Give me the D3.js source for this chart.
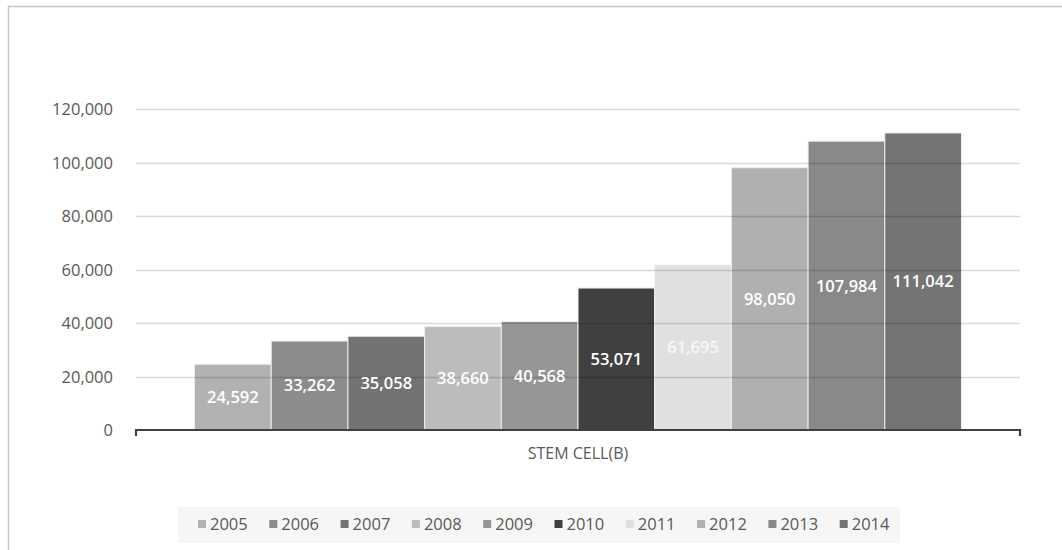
<!DOCTYPE html>
<html>
<head>
<meta charset="utf-8">
<script src="https://cdn.jsdelivr.net/npm/d3@7"></script>
<style>
  html, body { margin: 0; padding: 0; background: #fff; }
  svg { display: block; }
  text { font-family: "Open Sans", "DejaVu Sans", sans-serif; }
</style>
</head>
<body>
<svg id="chart" width="1062" height="550"></svg>
<script>
const years = ["2005","2006","2007","2008","2009","2010","2011","2012","2013","2014"];
const values = [24592, 33262, 35058, 38660, 40568, 53071, 61695, 98050, 107984, 111042];
const colors = ["#b2b2b2","#8c8c8c","#737373","#bcbcbc","#969696","#404040","#e0e0e0","#b0b0b0","#898989","#747474"];
const yTicks = [0, 20000, 40000, 60000, 80000, 100000, 120000];
const category = "STEM CELL(B)";

const svg = d3.select("#chart");
const W = 1062, H = 550;

// chart frame
svg.append("rect").attr("x", 8.5).attr("y", 6.5).attr("width", W + 10).attr("height", H + 10)
  .attr("fill", "#fff").attr("stroke", "#c8c8c8").attr("stroke-width", 1.5);

const plotL = 136, plotR = 1020, plotT = 109, plotB = 430;
const x = d3.scaleBand().domain(years).range([plotL, plotR]).paddingInner(0).paddingOuter(0.763);
const y = d3.scaleLinear().domain([0, 120000]).range([plotB, plotT]);
const fmt = d3.format(",");

// bars
svg.append("g").selectAll("rect").data(years).join("rect")
  .attr("x", d => x(d))
  .attr("y", (d, i) => y(values[i]))
  .attr("width", x.bandwidth())
  .attr("height", (d, i) => y(0) - y(values[i]))
  .attr("fill", (d, i) => colors[i])
  .attr("stroke", "#efefef").attr("stroke-width", 1);

// gridlines (on top, translucent)
svg.append("g").selectAll("line").data(yTicks.filter(t => t > 0)).join("line")
  .attr("x1", plotL).attr("x2", plotR)
  .attr("y1", d => Math.round(y(d)) + 0.5).attr("y2", d => Math.round(y(d)) + 0.5)
  .attr("stroke", "#000").attr("stroke-opacity", 0.15).attr("stroke-width", 1.3);

// y axis labels
const yAxis = d3.axisLeft(y).tickValues(yTicks).tickFormat(fmt).tickSize(0).tickPadding(0);
const ya = svg.append("g").attr("transform", `translate(${113},0)`).call(yAxis);
ya.select(".domain").remove();
ya.selectAll("text").attr("fill", "#595959").style("font-size", "16.5px")
  .style("font-family", "'Open Sans', sans-serif").attr("dy", "0.36em");

// x axis line with end ticks
const xa = svg.append("g").attr("transform", `translate(0,${plotB})`);
xa.append("path")
  .attr("d", `M${plotL},6V0H${plotR}V6`)
  .attr("fill", "none").attr("stroke", "#404040").attr("stroke-width", 2.2);

// category label
svg.append("text").attr("x", (plotL + plotR) / 2).attr("y", 459)
  .attr("text-anchor", "middle").attr("fill", "#595959")
  .style("font-size", "16px").text(category);

// data labels
svg.append("g").selectAll("text").data(years).join("text")
  .attr("x", d => x(d) + x.bandwidth() / 2)
  .attr("y", (d, i) => (y(values[i]) + y(0)) / 2)
  .attr("dy", "0.36em")
  .attr("text-anchor", "middle")
  .attr("fill", (d, i) => i === 6 ? "#f7f7f7" : "#ffffff")
  .style("font-size", "16.5px").style("font-weight", 600)
  .text((d, i) => fmt(values[i]));

// legend
const lg = svg.append("g");
lg.append("rect").attr("x", 178).attr("y", 507).attr("width", 722).attr("height", 36).attr("fill", "#f6f6f6");
const legendStart = 198, legendStep = 71.3;
const items = lg.selectAll("g.item").data(years).join("g").attr("class", "item")
  .attr("transform", (d, i) => `translate(${legendStart + i * legendStep},0)`);
items.append("rect").attr("x", 0).attr("y", 520).attr("width", 8).attr("height", 8)
  .attr("fill", (d, i) => colors[i]);
items.append("text").attr("x", 12).attr("y", 524).attr("dy", "0.36em")
  .attr("fill", "#595959").style("font-size", "16.5px").text(d => d);
</script>
</body>
</html>
